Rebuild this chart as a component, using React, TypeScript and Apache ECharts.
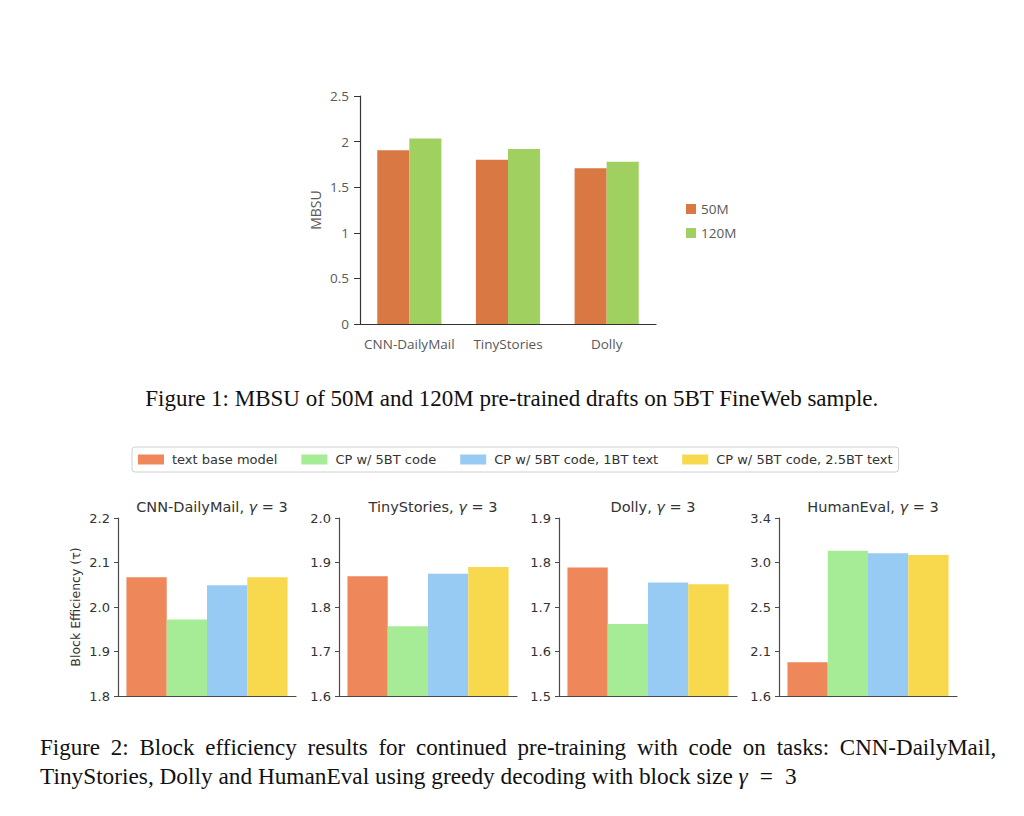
import React, { useEffect, useRef } from "react";
import * as echarts from "echarts";

// ---------- Figure 1 data ----------
const topCategories = ["CNN-DailyMail", "TinyStories", "Dolly"];
const mbsu50M = [1.905, 1.8, 1.707];
const mbsu120M = [2.035, 1.92, 1.78];

// ---------- Figure 2 data ----------
const taskNames = ["CNN-DailyMail", "TinyStories", "Dolly", "HumanEval"];
const seriesNames = [
  "text base model",
  "CP w/ 5BT code",
  "CP w/ 5BT code, 1BT text",
  "CP w/ 5BT code, 2.5BT text",
];
const textBaseModel = [2.067, 1.869, 1.789, 1.941];
const cp5BTCode = [1.972, 1.757, 1.662, 3.07];
const cp5BTCode1BTText = [2.049, 1.875, 1.755, 3.043];
const cp5BTCode25BTText = [2.067, 1.89, 1.751, 3.026];
const yRanges = [
  [1.8, 2.2],
  [1.6, 2.0],
  [1.5, 1.9],
  [1.6, 3.4],
];
const yTickLabels = [
  ["1.8", "1.9", "2.0", "2.1", "2.2"],
  ["1.6", "1.7", "1.8", "1.9", "2.0"],
  ["1.5", "1.6", "1.7", "1.8", "1.9"],
  ["1.6", "2.1", "2.5", "3.0", "3.4"],
];

const caption1 = "Figure 1: MBSU of 50M and 120M pre-trained drafts on 5BT FineWeb sample.";
const caption2Line1 =
  "Figure 2: Block efficiency results for continued pre-training with code on tasks: CNN-DailyMail,";
const caption2Line2 = "TinyStories, Dolly and HumanEval using greedy decoding with block size";

const seriesValues = [textBaseModel, cp5BTCode, cp5BTCode1BTText, cp5BTCode25BTText];
const seriesColors = ["#EE875A", "#A6EB95", "#98CBF3", "#F8D84C"];
const topColors = ["#D97843", "#A0D060"];

const subLefts = [118, 339, 559, 779];
const subTop = 518;
const subW = 178;
const subH = 178;

export default function App() {
  const ref = useRef<HTMLDivElement>(null);

  useEffect(() => {
    if (!ref.current) return;
    const chart = echarts.init(ref.current, undefined, { renderer: "svg" });

    const grids: any[] = [{ left: 360, top: 96, width: 296, height: 228 }];
    const xAxes: any[] = [
      {
        type: "category",
        gridIndex: 0,
        data: topCategories,
        axisLine: { lineStyle: { color: "#333", width: 1.2 } },
        axisTick: { show: false },
        axisLabel: {
          color: "#595959",
          fontFamily: "Open Sans",
          fontSize: 13.5,
          margin: 13,
          interval: 0,
        },
      },
    ];
    const yAxes: any[] = [
      {
        type: "value",
        gridIndex: 0,
        min: 0,
        max: 2.5,
        interval: 0.5,
        name: "MBSU",
        nameLocation: "middle",
        nameGap: 38,
        nameTextStyle: { color: "#595959", fontFamily: "Open Sans", fontSize: 14 },
        axisLine: { show: true, lineStyle: { color: "#333", width: 1.2 } },
        axisTick: { show: true, length: 6, lineStyle: { color: "#333" } },
        splitLine: { show: false },
        axisLabel: { color: "#595959", fontFamily: "Open Sans", fontSize: 13.5, margin: 11 },
      },
    ];
    const series: any[] = [
      {
        name: "50M",
        type: "bar",
        xAxisIndex: 0,
        yAxisIndex: 0,
        data: mbsu50M,
        barGap: "0%",
        barCategoryGap: "35%",
        itemStyle: { color: topColors[0] },
      },
      {
        name: "120M",
        type: "bar",
        xAxisIndex: 0,
        yAxisIndex: 0,
        data: mbsu120M,
        barGap: "0%",
        barCategoryGap: "35%",
        itemStyle: { color: topColors[1] },
      },
    ];
    const titles: any[] = [];

    taskNames.forEach((task, i) => {
      const gi = i + 1;
      grids.push({ left: subLefts[i], top: subTop, width: subW, height: subH });
      xAxes.push({
        type: "category",
        gridIndex: gi,
        data: [task],
        axisLine: { lineStyle: { color: "#4a4a4a", width: 1.2 } },
        axisTick: { show: false },
        axisLabel: { show: false },
      });
      const [lo, hi] = yRanges[i];
      yAxes.push({
        type: "value",
        gridIndex: gi,
        min: 0,
        max: 4,
        interval: 1,
        name: i === 0 ? "Block Efficiency (τ)" : "",
        nameLocation: "middle",
        nameGap: 36,
        nameTextStyle: { color: "#333", fontFamily: "DejaVu Sans", fontSize: 12.5 },
        axisLine: { show: true, lineStyle: { color: "#4a4a4a", width: 1.2 } },
        axisTick: { show: true, length: 4, lineStyle: { color: "#4a4a4a" } },
        splitLine: { show: false },
        axisLabel: {
          color: "#333",
          fontFamily: "DejaVu Sans",
          fontSize: 13,
          margin: 8,
          formatter: (v: number) => yTickLabels[i][Math.round(v)],
        },
      });
      seriesNames.forEach((name, s) => {
        series.push({
          name,
          type: "bar",
          xAxisIndex: gi,
          yAxisIndex: gi,
          data: [((seriesValues[s][i] - lo) / (hi - lo)) * 4],
          barGap: "0%",
          barCategoryGap: "9.5%",
          itemStyle: { color: seriesColors[s] },
        });
      });
      titles.push({
        text: `${task}, {g|γ} = 3`,
        left: subLefts[i] + subW / 2,
        top: 494,
        textAlign: "center",
        textStyle: {
          color: "#333",
          fontFamily: "DejaVu Sans",
          fontSize: 14.5,
          fontWeight: "normal",
          rich: {
            g: { fontFamily: "DejaVu Sans", fontStyle: "italic", fontSize: 14.5, color: "#333" },
          },
        },
      });
    });

    const serifStyle = { fontFamily: "Liberation Serif", fontSize: 23, fill: "#111" };
    // justified first line: widen inter-word spaces
    const line1Rich = caption2Line1.split(" ").join("{s| }");

    const option: any = {
      animation: false,
      backgroundColor: "#fff",
      title: titles,
      legend: [
        {
          data: ["50M", "120M"],
          orient: "vertical",
          left: 681,
          top: 197,
          itemWidth: 10,
          itemHeight: 10,
          itemGap: 10,
          icon: "rect",
          textStyle: { color: "#595959", fontFamily: "Open Sans", fontSize: 13.5 },
        },
        {
          data: seriesNames,
          orient: "horizontal",
          left: 132,
          top: 447,
          itemWidth: 26,
          itemHeight: 10,
          itemGap: 24,
          icon: "rect",
          padding: [6, 6, 6, 6],
          borderColor: "#d0d0d0",
          borderWidth: 1,
          borderRadius: 3,
          textStyle: {
            color: "#333",
            fontFamily: "DejaVu Sans",
            fontSize: 13,
            padding: [0, 0, 0, 3],
          },
        },
      ],
      grid: grids,
      xAxis: xAxes,
      yAxis: yAxes,
      series,
      graphic: [
        {
          type: "text",
          left: "center",
          top: 387,
          style: { text: caption1, ...serifStyle },
        },
        {
          type: "text",
          left: 40,
          top: 736,
          style: {
            text: line1Rich,
            ...serifStyle,
            rich: {
              s: { width: 10.8, fontFamily: "Liberation Serif", fontSize: 23 },
            },
          },
        },
        {
          type: "text",
          left: 40,
          top: 764,
          style: {
            text: `${caption2Line2} {g|γ}{m| }={m| }3`,
            ...serifStyle,
            fontSize: 23.3,
            rich: {
              g: { fontFamily: "Liberation Serif", fontStyle: "italic", fontSize: 23.3, fill: "#111" },
              m: { width: 12, fontFamily: "Liberation Serif", fontSize: 23.3 },
            },
          },
        },
      ],
    };

    chart.setOption(option);
    return () => chart.dispose();
  }, []);

  return (
    <div
      ref={ref}
      style={{ position: "fixed", left: 0, top: 0, width: 1024, height: 816, background: "#fff" }}
    />
  );
}
